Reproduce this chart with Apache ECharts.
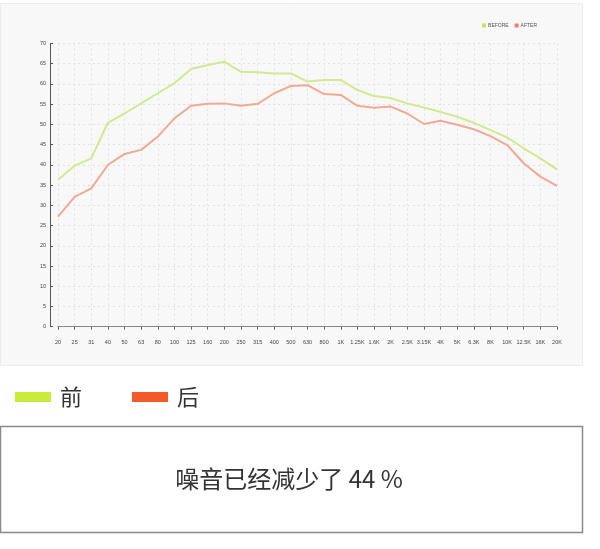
<!DOCTYPE html>
<html>
<head>
<meta charset="utf-8">
<script src="https://cdn.jsdelivr.net/npm/echarts@6/dist/echarts.min.js"></script>
<style>
html,body{margin:0;padding:0;background:#fff;}
#chart{width:600px;height:549px;}
</style>
</head>
<body>
<div id="chart"></div>
<script>
const categories = ['20','25','31','40','50','63','80','100','125','160','200','250','315','400','500','630','800','1K','1.25K','1.6K','2K','2.5K','3.15K','4K','5K','6.3K','8K','10K','12.5K','16K','20K'];
const beforeValues = [36.3,39.8,41.6,50.4,52.7,55.2,57.7,60.2,63.7,64.7,65.5,63.0,62.9,62.6,62.6,60.6,61.0,61.0,58.5,57.0,56.5,55.2,54.2,53.1,51.9,50.4,48.6,46.8,44.1,41.6,38.9];
const afterValues = [27.2,32.1,34.2,40.0,42.7,43.7,47.0,51.5,54.6,55.1,55.2,54.6,55.1,57.7,59.5,59.7,57.5,57.3,54.6,54.1,54.4,52.7,50.1,50.9,49.9,48.8,47.1,44.9,40.4,37.1,34.8];
const seriesNames = ['BEFORE','AFTER'];
const bottomLegendNames = ['前','后'];
const summaryText = '噪音已经减少了 44 %';

const chart = echarts.init(document.getElementById('chart'));
const option = {
  backgroundColor: '#fff',
  animation: false,
  graphic: [
    {type:'rect', z:-10, shape:{x:0.5,y:3.5,width:582,height:362}, style:{fill:'#f8f8f8', stroke:'#ececec', lineWidth:1}},
    {type:'rect', z:-10, shape:{x:0.5,y:426.5,width:582,height:106}, style:{fill:'#fff', stroke:'#8a8a8a', lineWidth:1.5}},
    {type:'text', z:10, x:289, y:479, style:{text:summaryText, fill:'#333', font:'24px "Noto Sans CJK SC", sans-serif', align:'center', verticalAlign:'middle'}}
  ],
  legend: [
    {
      data: seriesNames.map((n,i)=>({name:n, itemStyle:{color:i===0?'#c8e060':'#f08070'}})),
      right: 58, top: 18,
      icon: 'rect', itemWidth: 4, itemHeight: 4, itemGap: 6,
      textStyle: {fontSize: 5, color: '#555', padding:[0,0,0,-3]}
    },
    {
      data: bottomLegendNames.map((n,i)=>({name:n, itemStyle:{color:i===0?'#c5ec3a':'#f25a2a'}})),
      left: 10, top: 381,
      icon: 'rect', itemWidth: 36, itemHeight: 10, itemGap: 50,
      selectedMode: false,
      textStyle: {fontSize: 22, color: '#333', fontFamily:'"Noto Sans CJK SC", sans-serif', padding:[0,0,0,4]}
    }
  ],
  grid: {left: 58, right: 43, top: 43.5, bottom: 222.3, containLabel: false},
  xAxis: {
    type: 'category',
    data: categories,
    boundaryGap: false,
    offset: 8,
    axisLine: {lineStyle:{color:'#888', width:1}},
    axisTick: {show:true, length:3, alignWithLabel:true, lineStyle:{color:'#666'}},
    axisLabel: {fontSize: 5.5, color:'#444', interval:0, margin:5},
    splitLine: {show:true, lineStyle:{color:'#e2e2e2', type:[2,3], width:1}}
  },
  yAxis: {
    type: 'value',
    min: 0, max: 70, interval: 5,
    offset: 8,
    axisLine: {show:true, lineStyle:{color:'#555', width:1}},
    axisTick: {show:true, inside:true, length:3, lineStyle:{color:'#555'}},
    axisLabel: {fontSize: 5.5, color:'#444', margin:4},
    splitLine: {show:true, lineStyle:{color:'#e2e2e2', type:[2,3], width:1}}
  },
  series: [
    {name: seriesNames[0], type:'line', data: beforeValues, symbol:'none', lineStyle:{color:'#d3e890', width:2}, itemStyle:{color:'#d3e890'}},
    {name: seriesNames[1], type:'line', data: afterValues, symbol:'none', lineStyle:{color:'#f2aa95', width:2}, itemStyle:{color:'#f2aa95'}},
    {name: bottomLegendNames[0], type:'line', data: [], itemStyle:{color:'#c5ec3a'}},
    {name: bottomLegendNames[1], type:'line', data: [], itemStyle:{color:'#f25a2a'}}
  ]
};
chart.setOption(option);
</script>
</body>
</html>
